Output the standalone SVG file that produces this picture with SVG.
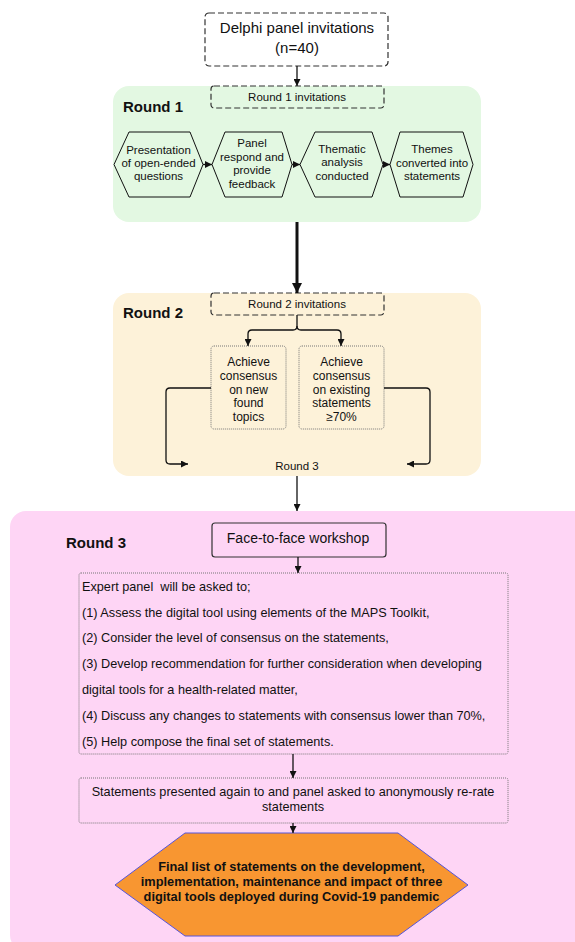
<svg xmlns="http://www.w3.org/2000/svg" width="575" height="942" viewBox="0 0 575 942">
<defs>
<marker id="ah" viewBox="0 0 10 10" refX="10" refY="5" markerWidth="7" markerHeight="7" markerUnits="userSpaceOnUse" orient="auto">
<path d="M0,0 L10,5 L0,10 z" fill="#111"/>
</marker>
<marker id="ahb" viewBox="0 0 10 10" refX="10" refY="5" markerWidth="10" markerHeight="10" markerUnits="userSpaceOnUse" orient="auto">
<path d="M0,0 L10,5 L0,10 z" fill="#111"/>
</marker>
</defs>
<style>
text{font-family:"Liberation Sans",Arial,sans-serif;fill:#111}
.t15{font-size:15px;text-anchor:middle}
.t11{font-size:11.5px;text-anchor:middle}
.t12{font-size:12px;text-anchor:middle}
.t13{font-size:12.7px;text-anchor:middle}
.tl{font-size:12.7px;white-space:pre}
.rd{font-size:15px;font-weight:bold}
.fin{font-size:12.8px;font-weight:bold;text-anchor:middle}
.dash{fill:#fff;stroke:#333;stroke-width:1.2;stroke-dasharray:6 3}
.dash2{fill:none;stroke:#333;stroke-width:1.2;stroke-dasharray:6 3}
.dot{fill:none;stroke:#777;stroke-width:1;stroke-dasharray:1 1}
.hex{fill:none;stroke:#111;stroke-width:1}
.ln{fill:none;stroke:#111;stroke-width:1.3}
</style>

<g id="round1-bg"><rect x="113" y="86" width="368" height="136" rx="16" fill="#e3f8e2"/></g>
<g id="round2-bg"><rect x="113" y="293" width="368" height="183" rx="16" fill="#fdf2d9"/></g>
<g id="round3-bg"><rect x="10" y="511" width="580" height="440" rx="16" fill="#fed5f5"/></g>

<g id="delphi">
<rect x="205" y="13" width="183" height="53" rx="4" class="dash"/>
<text class="t15" x="297" y="33">Delphi panel invitations</text>
<text class="t15" x="297" y="53">(n=40)</text>
</g>

<g id="r1-label"><text class="rd" x="123" y="112">Round 1</text></g>
<g id="r1-inv">
<rect x="211" y="86" width="173" height="22" rx="3" class="dash2"/>
<text class="t11" x="297" y="101">Round 1 invitations</text>
</g>
<g id="hex1">
<polygon class="hex" points="114,164.5 129,132 190,132 203,164.5 190,197 129,197"/>
<text class="t11" x="158.5" y="154">Presentation</text>
<text class="t11" x="158.5" y="167">of open-ended</text>
<text class="t11" x="158.5" y="180">questions</text>
</g>
<g id="hex2">
<polygon class="hex" points="212,164.5 225,132 282,132 292,164.5 282,197 225,197"/>
<text class="t11" x="252" y="147">Panel</text>
<text class="t11" x="252" y="161">respond and</text>
<text class="t11" x="252" y="174">provide</text>
<text class="t11" x="252" y="188">feedback</text>
</g>
<g id="hex3">
<polygon class="hex" points="300,164.5 315,132 372,132 383,164.5 372,197 315,197"/>
<text class="t11" x="342" y="153">Thematic</text>
<text class="t11" x="342" y="166">analysis</text>
<text class="t11" x="342" y="180">conducted</text>
</g>
<g id="hex4">
<polygon class="hex" points="390,164.5 400,132 463,132 473,164.5 463,197 400,197"/>
<text class="t11" x="432" y="153">Themes</text>
<text class="t11" x="432" y="167">converted into</text>
<text class="t11" x="432" y="180">statements</text>
</g>

<g id="r2-label"><text class="rd" x="123" y="318">Round 2</text></g>
<g id="r2-inv">
<rect x="211" y="293" width="173" height="22" rx="3" class="dash2"/>
<text class="t11" x="297" y="308">Round 2 invitations</text>
</g>
<g id="r2-new">
<rect x="211" y="346" width="75" height="83" rx="3" class="dot"/>
<text class="t12" x="248.5" y="366">Achieve</text>
<text class="t12" x="248.5" y="380">consensus</text>
<text class="t12" x="248.5" y="394">on new</text>
<text class="t12" x="248.5" y="407">found</text>
<text class="t12" x="248.5" y="421">topics</text>
</g>
<g id="r2-existing">
<rect x="299" y="346" width="85" height="83" rx="3" class="dot"/>
<text class="t12" x="341.5" y="366">Achieve</text>
<text class="t12" x="341.5" y="380">consensus</text>
<text class="t12" x="341.5" y="394">on existing</text>
<text class="t12" x="341.5" y="407">statements</text>
<text class="t12" x="341.5" y="421">≥70%</text>
</g>
<g id="r2-round3"><text class="t11" x="297" y="470">Round 3</text></g>

<g id="r3-label"><text class="rd" x="66" y="548">Round 3</text></g>
<g id="workshop">
<rect x="212" y="523" width="174" height="34" rx="3" fill="none" stroke="#333" stroke-width="1.2"/>
<text class="t15" x="298" y="543" style="font-size:14px">Face-to-face workshop</text>
</g>
<g id="expert">
<rect x="79" y="573" width="429" height="181" rx="2" class="dot"/>
<text class="tl" x="82" y="591" xml:space="preserve">Expert panel  will be asked to;</text>
<text class="tl" x="82" y="617">(1) Assess the digital tool using elements of the MAPS Toolkit,</text>
<text class="tl" x="82" y="642">(2) Consider the level of consensus on the statements,</text>
<text class="tl" x="82" y="668">(3) Develop recommendation for further consideration when developing</text>
<text class="tl" x="82" y="694">digital tools for a health-related matter,</text>
<text class="tl" x="82" y="720">(4) Discuss any changes to statements with consensus lower than 70%,</text>
<text class="tl" x="82" y="746">(5) Help compose the final set of statements.</text>
</g>
<g id="rerate">
<rect x="79" y="778" width="429" height="45" rx="2" class="dot"/>
<text class="t13" x="293" y="796">Statements presented again to and panel asked to anonymously re-rate</text>
<text class="t13" x="293" y="811">statements</text>
</g>
<g id="final">
<polygon points="115,885 185,833 398,833 468,885 398,936 185,936" fill="#f89631" stroke="#5555dd" stroke-width="1"/>
<text class="fin" x="291.5" y="871">Final list of statements on the development,</text>
<text class="fin" x="291.5" y="886">implementation, maintenance and impact of three</text>
<text class="fin" x="291.5" y="901">digital tools deployed during Covid-19 pandemic</text>
</g>

<g id="connectors">
<line class="ln" x1="297" y1="66" x2="297" y2="86" marker-end="url(#ah)"/>
<line class="ln" x1="203" y1="164.5" x2="212" y2="164.5" marker-end="url(#ah)"/>
<line class="ln" x1="292" y1="164.5" x2="300" y2="164.5" marker-end="url(#ah)"/>
<line class="ln" x1="383" y1="164.5" x2="390" y2="164.5" marker-end="url(#ah)"/>
<line x1="297" y1="222" x2="297" y2="293" stroke="#111" stroke-width="3" marker-end="url(#ahb)"/>
<path class="ln" d="M297,315 V326 Q297,330 293,330 H252 Q248,330 248,334 V346" marker-end="url(#ah)"/>
<path class="ln" d="M297,326 Q297,330 301,330 H337 Q341,330 341,334 V346" marker-end="url(#ah)"/>
<path class="ln" d="M211,388 H170 Q166,388 166,392 V460 Q166,464 170,464 H188" marker-end="url(#ah)"/>
<path class="ln" d="M384,388 H426 Q430,388 430,392 V460 Q430,464 426,464 H407" marker-end="url(#ah)"/>
<line class="ln" x1="297" y1="476" x2="297" y2="511" marker-end="url(#ah)"/>
<line class="ln" x1="298" y1="557" x2="298" y2="573" marker-end="url(#ah)"/>
<line class="ln" x1="293" y1="754" x2="293" y2="778" marker-end="url(#ah)"/>
<line class="ln" x1="293" y1="823" x2="293" y2="833" marker-end="url(#ah)"/>
</g>
</svg>
